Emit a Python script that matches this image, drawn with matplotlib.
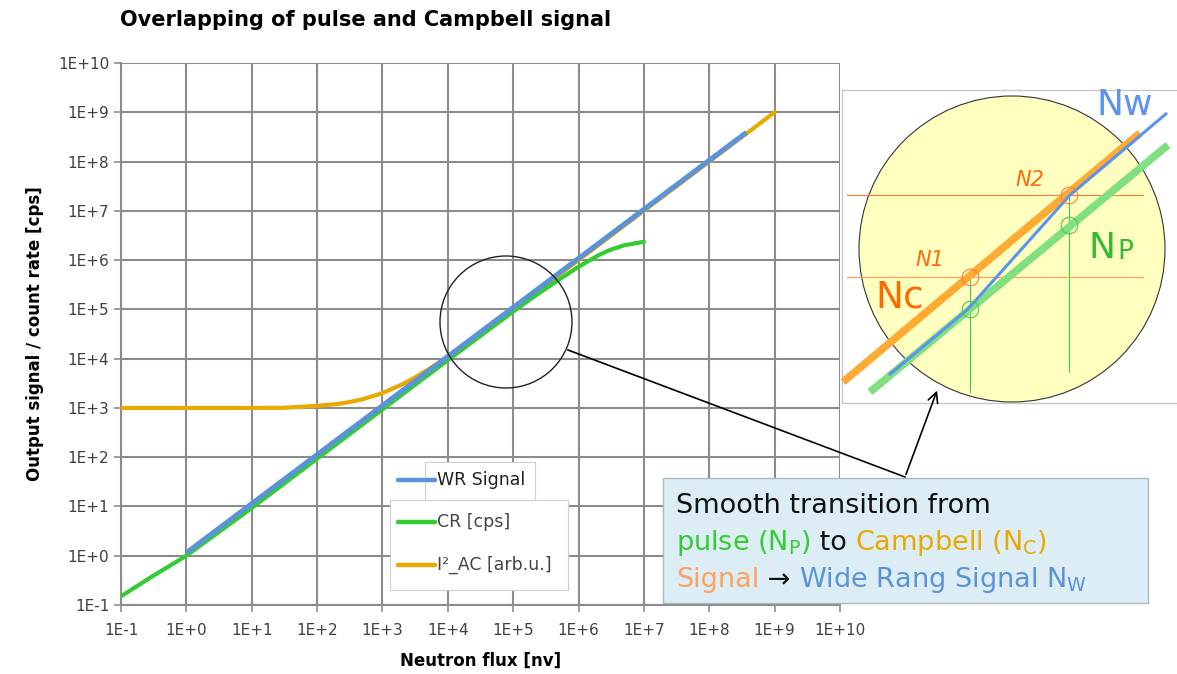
import numpy as np
import matplotlib
matplotlib.use('Agg')
import matplotlib.pyplot as plt
from matplotlib.patches import Rectangle, Circle, Ellipse, FancyArrowPatch
from matplotlib.lines import Line2D
from matplotlib.ticker import FixedLocator, FuncFormatter, NullLocator

# ---- data ----
wr_x = [1.0, 3.7e8]
wr_y = [1.15, 3.9e8]

cr_x = [0.1, 0.3, 1.0, 10, 100, 1e3, 1e4, 1e5, 2e5, 5e5, 1e6, 2e6, 3e6, 5e6, 1e7]
cr_y = [0.15, 0.38, 1.0, 9.3, 93, 930, 9.3e3, 9.0e4, 1.75e5, 4.0e5, 7.3e5, 1.25e6, 1.6e6, 2.0e6, 2.35e6]

ac_x = [0.1, 1, 10, 30, 100, 200, 300, 500, 1e3, 2e3, 3e3, 5e3, 1e4, 2e4, 3e4,
        1e5, 1e6, 1e7, 1e8, 1e9]
ac_y = [1000, 1000, 1000, 1005, 1100, 1200, 1300, 1500, 2000, 3000, 4000, 6000, 1.1e4, 2.1e4, 3.1e4,
        1.01e5, 1.0e6, 1.0e7, 1.0e8, 1.0e9]

series_labels = ['WR Signal', 'CR [cps]', 'I\u00b2_AC [arb.u.]']
tick_exps = list(range(-1, 11))

# inset sketch (inset units, origin bottom-left)
inset_nc = ([3, 300], [23, 272])
inset_np = ([30, 328], [13, 260])
inset_nw = ([49, 127, 230, 327], [30, 95, 210, 292])
inset_n1_level = 128
inset_n2_level = 210
inset_n1_x = 130
inset_n2_x = 229
inset_np_at = [96, 180]

BLUE = '#5B93D8'
GREEN = '#33CC33'
GOLD = '#E8AA00'
GRID = '#8C8C8C'

W, H = 1177, 674
fig = plt.figure(figsize=(W / 100, H / 100), dpi=100)


def fx(px):
    return px / W


def fy(py):
    return 1 - py / H


ax = fig.add_axes([fx(121), fy(605), (840 - 121) / W, (605 - 63) / H])
ax.set_xscale('log')
ax.set_yscale('log')
ax.set_xlim(0.1, 1e10)
ax.set_ylim(0.1, 1e10)

ax.plot(ac_x, ac_y, color=GOLD, lw=3.0, solid_capstyle='round', solid_joinstyle='round', zorder=3)
ax.plot(cr_x, cr_y, color=GREEN, lw=3.0, solid_capstyle='round', solid_joinstyle='round', zorder=4)
ax.plot(wr_x, wr_y, color=BLUE, lw=3.6, solid_capstyle='butt', zorder=5)

ticks = [10.0 ** e for e in tick_exps]


def exp_label(v, _):
    e = int(round(np.log10(v)))
    return '1E%+d' % e if e >= 0 else '1E%d' % e


for a in (ax.xaxis, ax.yaxis):
    a.set_major_locator(FixedLocator(ticks))
    a.set_minor_locator(NullLocator())
    a.set_major_formatter(FuncFormatter(exp_label))
ax.grid(True, color=GRID, lw=1.5)
ax.set_axisbelow(True)
for s in ['top', 'right']:
    ax.spines[s].set_visible(False)
for s in ['left', 'bottom']:
    ax.spines[s].set_color(GRID)
    ax.spines[s].set_linewidth(1.5)
ax.tick_params(colors=GRID, labelcolor='#404040', labelsize=11, length=5, width=1.2)
ax.tick_params(axis='x', pad=8)

ax.set_xlabel('Neutron flux [nv]', fontsize=12, fontweight='bold', labelpad=10)
ax.set_ylabel('Output signal / count rate [cps]', fontsize=12, fontweight='bold', labelpad=10)
fig.text(fx(120), fy(20), 'Overlapping of pulse and Campbell signal', fontsize=15,
         fontweight='bold', va='center', ha='left')

# circle marking the transition region + connector arrow
fig.patches.append(Ellipse((fx(506), fy(322)), 132 / W, 132 / H, transform=fig.transFigure,
                           fill=False, ec='#222222', lw=1.0, zorder=6))
fig.add_artist(Line2D([fx(568), fx(905)], [fy(350), fy(477)], color='black', lw=1.2,
                      transform=fig.transFigure, zorder=6))
fig.add_artist(FancyArrowPatch((fx(905), fy(477)), (fx(938), fy(388)),
                               transform=fig.transFigure, arrowstyle='->',
                               mutation_scale=18, color='black', lw=1.2, zorder=6))

# manual legend (two boxes as in the original)
fig.patches.append(Rectangle((fx(425), fy(500)), 110 / W, 38 / H, transform=fig.transFigure,
                             fc='white', ec='#D0D0D0', lw=0.8, zorder=7))
fig.patches.append(Rectangle((fx(390), fy(590)), 178 / W, 90 / H, transform=fig.transFigure,
                             fc='white', ec='#D0D0D0', lw=0.8, zorder=7))
leg_rows = [(BLUE, 480, 398), (GREEN, 522, 398), (GOLD, 565, 398)]
for (col, py, px0), lab in zip(leg_rows, series_labels):
    fig.add_artist(Line2D([fx(px0), fx(px0 + 37)], [fy(py), fy(py)], color=col, lw=3.2,
                          solid_capstyle='round', transform=fig.transFigure, zorder=8))
    fig.text(fx(px0 + 39), fy(py), lab, fontsize=12.5, va='center', ha='left',
             color='#222222' if col == BLUE else '#444444', zorder=8)

# text box
fig.patches.append(Rectangle((fx(663), fy(603)), (1148 - 663) / W, (603 - 478) / H,
                             transform=fig.transFigure, fc='#DCEDF5', ec='#AAB8C0', lw=1.0, zorder=7))

lines = [
    [('Smooth transition from', '#111111')],
    [('pulse (N$_\\mathregular{P}$)', GREEN), (' to ', '#111111'),
     ('Campbell (N$_\\mathregular{C}$)', GOLD)],
    [('Signal', '#FFA060'), (' \u2192 ', '#111111'), ('Wide Rang Signal N$_\\mathregular{W}$', BLUE)],
]
renderer = fig.canvas.get_renderer()
for i, pieces in enumerate(lines):
    xpos = fx(676)
    ypos = fy(513 + i * 37)
    for txt, col in pieces:
        t = fig.text(xpos, ypos, txt, color=col, fontsize=19.5, va='baseline', ha='left', zorder=9)
        bb = t.get_window_extent(renderer=renderer)
        xpos += bb.width / W

# inset sketch
ins = fig.add_axes([fx(840), fy(405), 337 / W, 317 / H])
ins.set_xlim(0, 337)
ins.set_ylim(0, 317)
ins.axis('off')
ins.add_patch(Rectangle((2, 2), 345, 313, fc='white', ec='#C8C8C8', lw=1.0, clip_on=False))
ins.add_patch(Circle((172, 156), 153, fc='#FFFFC0', ec='#333333', lw=0.8))
ins.plot([7, 303], [inset_n2_level] * 2, color='#FF7A30', lw=0.8)
ins.plot([7, 303], [inset_n1_level] * 2, color='#FFA060', lw=0.9)
ins.plot([inset_n1_x] * 2, [13, inset_n1_level], color='#44CC44', lw=0.8)
ins.plot([inset_n2_x] * 2, [33, inset_n2_level], color='#44CC44', lw=0.8)
ins.plot(*inset_np, color='#80E080', lw=5.5, solid_capstyle='butt')
ins.plot(*inset_nc, color='#FFAA33', lw=5.5, solid_capstyle='butt')
ins.plot(*inset_nw, color='#5B93EE', lw=2.2, solid_capstyle='butt')
ins.plot([inset_n1_x, inset_n2_x], [inset_n1_level, inset_n2_level], 'o', ms=12,
         mfc='none', mec='#FF7A40', mew=0.8)
ins.plot([inset_n1_x, inset_n2_x], inset_np_at, 'o', ms=12, mfc='none', mec='#44CC44', mew=0.8)
ins.text(285, 300, 'Nw', color='#5B93EE', fontsize=26, ha='center', va='center')
ins.text(190, 225, 'N2', color='#FF6A10', fontsize=15, style='italic', ha='center', va='center')
ins.text(90, 145, 'N1', color='#FF6A10', fontsize=15, style='italic', ha='center', va='center')
ins.text(60, 107, 'Nc', color='#FF6A00', fontsize=27, ha='center', va='center')
ins.text(262, 157, 'N', color='#33BB33', fontsize=26, ha='center', va='center')
ins.text(285, 153, 'P', color='#33BB33', fontsize=19, ha='center', va='center')

fig.savefig('out.png', dpi=100)
